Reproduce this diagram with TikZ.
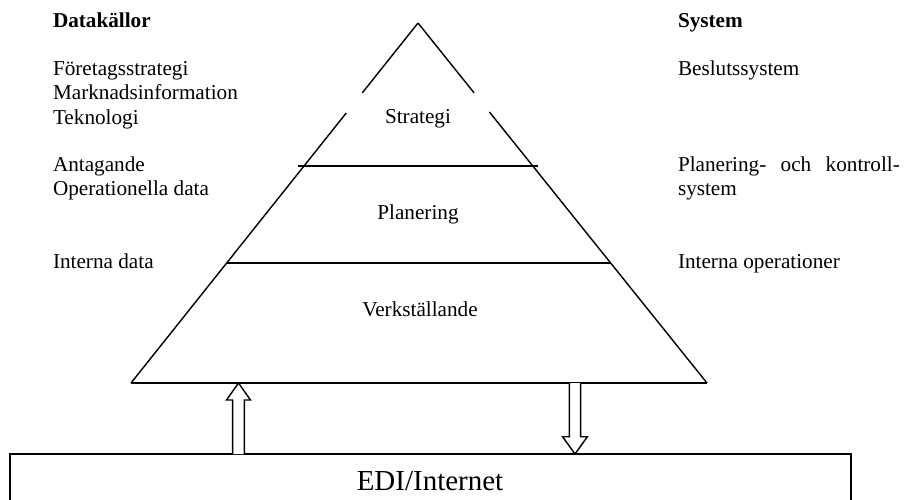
\documentclass[tikz,border=0pt]{standalone}
\usepackage{fontspec}
\setmainfont{Liberation Serif}
\usetikzlibrary{positioning,calc}

\begin{document}
\begin{tikzpicture}[x=0.566pt,y=-0.566pt]
		\tikzstyle{txt} = [anchor=base west, inner sep=0, outer sep=0, font=\fontsize{12}{14}\selectfont]
		\tikzstyle{head} = [txt, font=\fontsize{12}{14}\selectfont\bfseries]
		\tikzstyle{layer} = [anchor=base, inner sep=0, outer sep=0, font=\fontsize{12}{14}\selectfont]
		\tikzstyle{side} = [draw, line width=0.8pt]
		\tikzstyle{hollow} = [draw, line width=0.8pt, fill=white, line join=miter]
		\useasboundingbox (0,0) rectangle (904,499);
		% pyramid
		\coordinate (v1) at (418,23);
		\coordinate (v2) at (131,383);
		\coordinate (v3) at (707,383);
		\draw [side] (v1) -- ($(v1)!0.194!(v2)$);
		\draw [side] ($(v1)!0.25!(v2)$) -- (v2);
		\draw [side] (v1) -- ($(v1)!0.194!(v3)$);
		\draw [side] ($(v1)!0.247!(v3)$) -- (v3);
		\draw [side] (v2) -- (v3);
		\draw [side] (298,166) -- (538,166);
		\draw [side] ($(v1)!0.667!(v2)$) -- ($(v1)!0.667!(v3)$);
		\node [layer] (v4) at (418,123) {Strategi};
		\node [layer] (v5) at (418,219) {Planering};
		\node [layer] (v6) at (420,316) {Verkställande};
		% left column
		\node [head] (v7) at (53,27.5) {Datakällor};
		\node [txt] (v8) at (53,75) {Företagsstrategi};
		\node [txt] (v9) at (53,99.5) {Marknadsinformation};
		\node [txt] (v10) at (53,124) {Teknologi};
		\node [txt] (v11) at (53,171) {Antagande};
		\node [txt] (v12) at (53,195.5) {Operationella data};
		\node [txt] (v13) at (53,268) {Interna data};
		% right column
		\node [head] (v14) at (678,27.5) {System};
		\node [txt] (v15) at (678,75) {Beslutssystem};
		\node [txt] (v16) at (678,171) {\hbox to 125.6pt{Planering-\hfill och\hfill kontroll-}};
		\node [txt] (v17) at (678,195.5) {system};
		\node [txt] (v18) at (678,268) {Interna operationer};
		% EDI box
		\draw [side] (10,520) -- (10,454) -- (851,454) -- (851,520);
		\node [layer, font=\fontsize{16.4}{19}\selectfont] (v19) at (430,490) {EDI/Internet};
		% arrows
		\coordinate (v20) at (238.5,383);
		\coordinate (v21) at (238.5,454);
		\coordinate (v22) at (575,383);
		\coordinate (v23) at (575,454);
		\draw [hollow] ($(v21)+(-5.8,0)$) -- ($(v21)+(-5.8,-54)$) -- ($(v21)+(-12,-54)$) -- (v20) -- ($(v21)+(12,-54)$) -- ($(v21)+(5.8,-54)$) -- ($(v21)+(5.8,0)$);
		\draw [hollow] ($(v22)+(-5.7,0)$) -- ($(v22)+(-5.7,53.7)$) -- ($(v22)+(-12.4,53.7)$) -- (v23) -- ($(v22)+(12.4,53.7)$) -- ($(v22)+(5.7,53.7)$) -- ($(v22)+(5.7,0)$);
\end{tikzpicture}
\end{document}
